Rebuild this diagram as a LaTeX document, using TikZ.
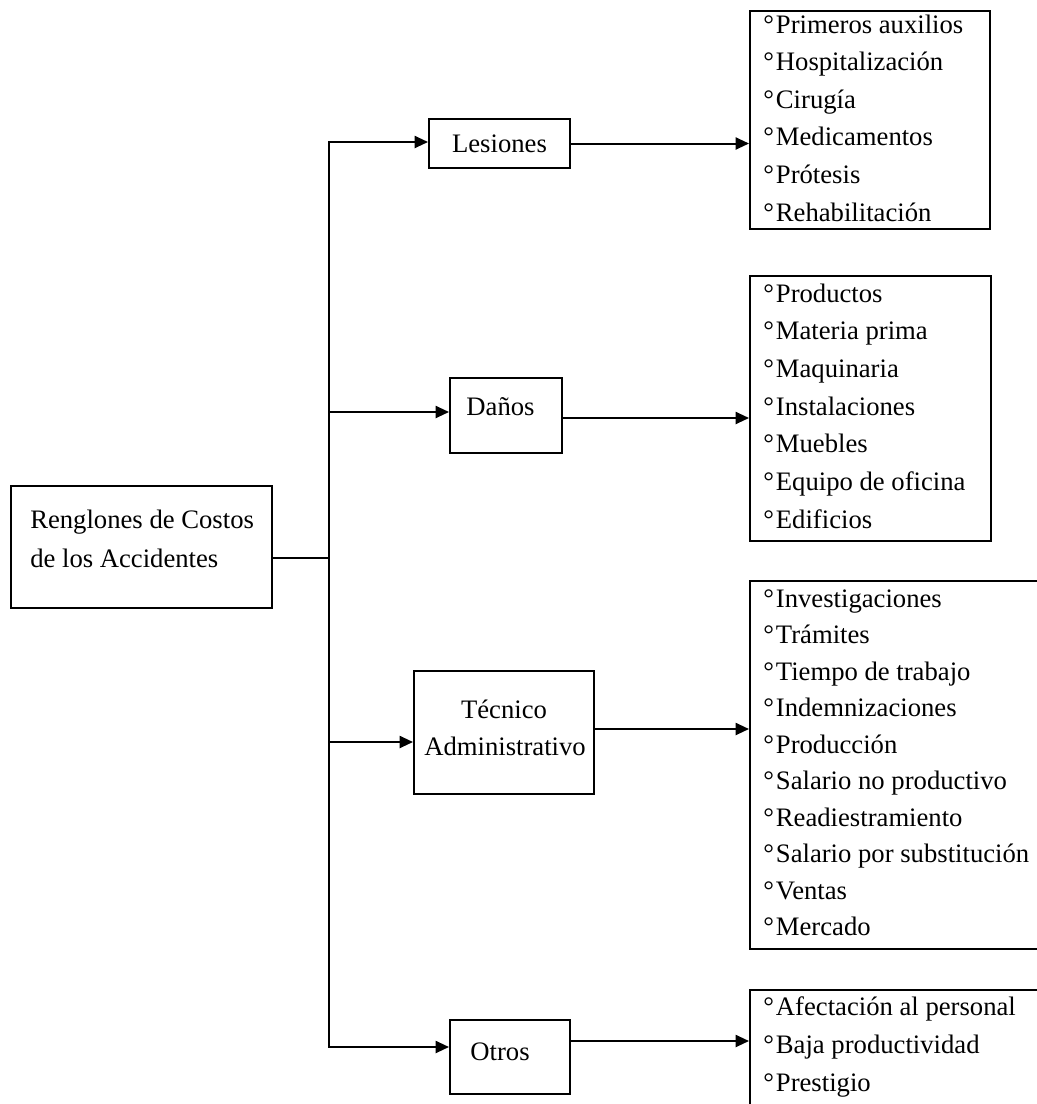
\documentclass[tikz,border=0pt]{standalone}
\usepackage{fontspec}
\setmainfont{Liberation Serif}
\usetikzlibrary{arrows.meta,calc}
\begin{document}
\begin{tikzpicture}[x=0.75pt,y=-0.75pt,
  box/.style={draw, line width=1.5pt, rectangle, inner sep=0pt, anchor=north west},
  txt/.style={font=\fontsize{20}{24}\selectfont, inner sep=0pt, anchor=base west},
  ctxt/.style={txt, anchor=base},
  wire/.style={line width=1.5pt, line cap=rect},
  link/.style={line width=1.5pt, -{Triangle[length=10pt,width=9pt]}},
]
\useasboundingbox (0,0) rectangle (1037,1104);
\begin{scope}
\clip (0,0) rectangle (1037,1104);

% main box
\node[box, minimum width=195.75pt, minimum height=91.5pt] (Root) at (10,485) {};
\node[txt] (Root-a) at ($(Root.north west)+(20,43)$) {Renglones de Costos};
\node[txt] (Root-b) at ($(Root.north west)+(20,82)$) {de los Accidentes};

% category boxes
\node[box, minimum width=105.75pt, minimum height=36.75pt] (Les) at (428,118) {};
\node[ctxt] (Les-t) at ($(Les.north)+(0,34)$) {Lesiones};

\node[box, minimum width=84pt, minimum height=56.25pt] (Dan) at (449,377) {};
\node[ctxt] (Dan-t) at ($(Dan.north)+(-5.5,38)$) {Daños};

\node[box, minimum width=135pt, minimum height=92.25pt] (Tec) at (413,670) {};
\node[ctxt] (Tec-a) at ($(Tec.north)+(0,48)$) {Técnico};
\node[ctxt] (Tec-b) at ($(Tec.north)+(1,85)$) {Administrativo};

\node[box, minimum width=90pt, minimum height=55.5pt] (Otr) at (449,1019) {};
\node[ctxt] (Otr-t) at ($(Otr.north)+(-10,41)$) {Otros};

% item lists
\node[box, minimum width=180pt, minimum height=163.5pt] (L1) at (749,10) {};
\foreach \t [count=\i from 0] in {Primeros auxilios, Hospitalización, Cirugía,
    Medicamentos, Prótesis, Rehabilitación}
  \node[txt] (L1-\i) at ($(L1.north west)+(14,{23+37.6*\i})$) {°\kern1.5pt\t};

\node[box, minimum width=180.75pt, minimum height=198.75pt] (L2) at (749,275) {};
\foreach \t [count=\i from 0] in {Productos, Materia prima, Maquinaria,
    Instalaciones, Muebles, Equipo de oficina, Edificios}
  \node[txt] (L2-\i) at ($(L2.north west)+(14,{27+37.7*\i})$) {°\kern1.5pt\t};

\node[box, minimum width=225pt, minimum height=276pt] (L3) at (749,580) {};
\foreach \t [count=\i from 0] in {Investigaciones, Trámites, Tiempo de trabajo,
    Indemnizaciones, Producción, Salario no productivo, Readiestramiento,
    Salario por substitución, Ventas, Mercado}
  \node[txt] (L3-\i) at ($(L3.north west)+(14,{27+36.5*\i})$) {°\kern1.5pt\t};

\node[box, minimum width=225pt, minimum height=112.5pt] (L4) at (749,989) {};
\foreach \t [count=\i from 0] in {Afectación al personal, Baja productividad, Prestigio}
  \node[txt] (L4-\i) at ($(L4.north west)+(14,{26+38*\i})$) {°\kern1.5pt\t};

% junction points on the trunk
\coordinate (jRoot) at (329,558);
\coordinate (jLes) at (329,142);
\coordinate (jDan) at (329,412);
\coordinate (jTec) at (329,742);
\coordinate (jOtr) at (329,1047);

% exit points of the category boxes
\coordinate (oLes) at (Les.east);
\coordinate (oDan) at ($(Dan.east)+(0,2.5)$);
\coordinate (oTec) at ($(Tec.east)+(0,-3.5)$);
\coordinate (oOtr) at ($(Otr.east)+(0,-16)$);

% trunk and branches
\draw[wire] (jLes) -- (jOtr);
\draw[wire] (jRoot -| Root.east) -- (jRoot);
\draw[link] (jLes) -- (jLes -| Les.west);
\draw[link] (jDan) -- (jDan -| Dan.west);
\draw[link] (jTec) -- (jTec -| Tec.west);
\draw[link] (jOtr) -- (jOtr -| Otr.west);

% category to list
\draw[link] (oLes) -- (oLes -| L1.west);
\draw[link] (oDan) -- (oDan -| L2.west);
\draw[link] (oTec) -- (oTec -| L3.west);
\draw[link] (oOtr) -- (oOtr -| L4.west);
\end{scope}
\end{tikzpicture}
\end{document}
